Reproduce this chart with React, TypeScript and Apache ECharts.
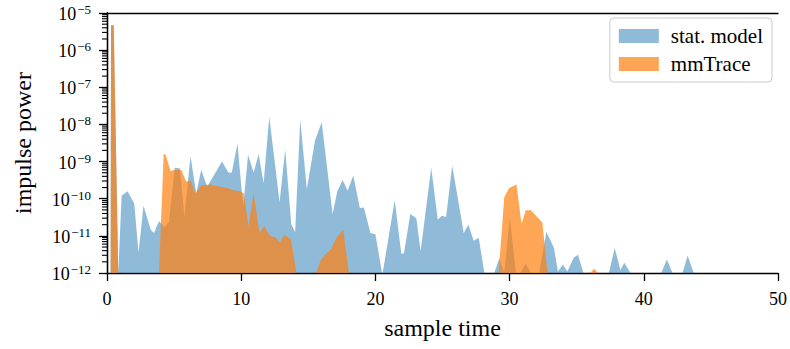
import React, { useEffect, useRef } from 'react';
import * as echarts from 'echarts';

// [sample time, impulse power]
const statModel: [number, number][] = [
  [0, 1e-12], [0.27, 1e-12], [0.3, 4.7e-6], [0.5, 4.7e-6], [0.84, 1e-12],
  [1.09, 1.2e-10], [1.53, 1.6e-10], [2.03, 7.4e-11], [2.35, 3.5e-12], [2.72, 6.5e-11],
  [3.26, 1.45e-11], [3.5, 1.2e-11], [3.88, 2.5e-11], [4.25, 1.7e-11], [4.62, 2.3e-11],
  [5.04, 6.8e-10], [5.44, 6.5e-10], [5.77, 3.2e-11], [6.04, 3.1e-10], [6.22, 1.4e-9],
  [6.65, 1.4e-10], [7.02, 6e-10], [7.46, 2.1e-10], [8.09, 5.1e-10], [8.57, 1.0e-9],
  [9.06, 5e-10], [9.3, 5.1e-10], [9.72, 3.0e-9], [10.15, 6e-11], [10.51, 1.5e-9],
  [10.93, 5.1e-10], [11.3, 1.6e-9], [11.67, 2.6e-10], [12.09, 1.6e-8], [12.86, 8e-11],
  [13.28, 2.1e-9], [13.73, 2.1e-11], [14.02, 1.25e-11], [14.4, 1.35e-8], [14.89, 1.8e-10],
  [15.5, 3.7e-9], [16.0, 1.15e-8], [16.81, 3.9e-11], [17.16, 1.6e-10], [17.56, 3.2e-10],
  [17.93, 1.65e-10], [18.35, 4.2e-10], [18.84, 5.6e-11], [19.14, 5.8e-11], [19.63, 1.2e-11],
  [20.0, 1.1e-11], [20.52, 9e-13], [21.44, 9.1e-11], [21.93, 3.3e-12], [22.13, 3.4e-12],
  [22.6, 3.9e-11], [23.05, 3.0e-11], [23.37, 3.9e-12], [24.16, 6.8e-10], [24.65, 2.7e-11],
  [24.95, 3.5e-11], [25.27, 3.2e-11], [25.72, 7.8e-10], [26.26, 5.9e-11], [26.58, 1.2e-11],
  [26.93, 2.0e-11], [27.32, 7.4e-12], [27.7, 8.9e-12], [28.12, 1e-12], [28.86, 1e-12],
  [29.23, 2.5e-12], [29.6, 1e-12], [30.02, 3.1e-11], [30.47, 1e-12], [30.8, 1e-12],
  [31.2, 1.8e-12], [31.58, 1e-12], [32.2, 1e-12], [32.74, 1.3e-11], [33.31, 4.7e-12],
  [33.6, 1.1e-12], [33.97, 1.7e-12], [34.3, 1.1e-12], [34.79, 2.6e-12], [35.1, 3.1e-12],
  [35.5, 1e-12], [37.4, 1e-12], [37.83, 4.7e-12], [38.26, 1.2e-12], [38.55, 1.9e-12],
  [39.0, 1e-12], [41.3, 1e-12], [41.72, 2.3e-12], [42.14, 1e-12], [42.88, 1e-12],
  [43.27, 2.9e-12], [43.72, 1e-12], [50, 1e-12],
];

const mmTrace: [number, number][] = [
  [0, 1e-12], [0.27, 1e-12], [0.3, 4.7e-6], [0.5, 4.7e-6], [0.84, 1e-12],
  [3.88, 1e-12], [4.22, 1.6e-9], [4.38, 1.5e-9], [4.73, 5.6e-10], [5.0, 5.9e-10],
  [5.54, 5.9e-10], [5.9, 2.9e-10], [6.23, 3.1e-10], [6.6, 1.35e-10], [7.02, 2.3e-10],
  [7.7, 2.4e-10], [8.45, 2.1e-10], [9.05, 1.9e-10], [9.4, 1.7e-10], [9.9, 1.6e-10],
  [10.19, 1.4e-10], [10.55, 1.8e-11], [10.92, 1.4e-10], [11.37, 1.2e-11], [11.71, 1.85e-11],
  [12.16, 9.8e-12], [12.53, 9.3e-12], [12.88, 6.5e-12], [13.2, 1.07e-11], [13.7, 8.1e-12],
  [14.12, 1e-12], [15.58, 1e-12], [15.93, 2.2e-12], [16.25, 3.1e-12], [16.67, 4.2e-12],
  [17.1, 8.9e-12], [17.6, 1.45e-11], [18.03, 1e-12], [29.18, 1e-12], [29.6, 1.1e-10],
  [29.97, 1.95e-10], [30.51, 2.4e-10], [30.89, 2.1e-11], [31.2, 4.9e-11], [31.58, 4.9e-11],
  [32.44, 2.3e-11], [32.82, 1e-12], [36.0, 1e-12], [36.3, 1.3e-12], [36.6, 1e-12],
  [50, 1e-12],
];

const seriesNames = ['stat. model', 'mmTrace'];
const xLabel = 'sample time';
const yLabel = 'impulse power';
const yMin = 1e-12;
const yMax = 1e-5;
const xMin = 0;
const xMax = 50;
const xStep = 10;
// minor tick positions on the log axis: mantissas 2..9 within each decade
const minorMantissas = [2, 3, 4, 5, 6, 7, 8, 9];
const decades = [-12, -11, -10, -9, -8, -7, -6];

const BLUE = 'rgba(31,119,180,0.5)';
const ORANGE = 'rgba(255,127,14,0.7)';
const FONT = '"Liberation Serif", "DejaVu Serif", serif';

export default function App() {
  const ref = useRef<HTMLDivElement>(null);
  useEffect(() => {
    if (!ref.current) return;
    const chart = echarts.init(ref.current, undefined, { renderer: 'svg' });
    const axisLineStyle = { color: '#000', width: 1.3 };
    chart.setOption({
      animation: false,
      grid: { left: 107, right: 12, top: 13, bottom: 76 },
      legend: {
        data: [
          { name: seriesNames[0], itemStyle: { color: BLUE } },
          { name: seriesNames[1], itemStyle: { color: ORANGE } },
        ],
        orient: 'vertical',
        right: 18,
        top: 18,
        icon: 'rect',
        itemWidth: 40,
        itemHeight: 14,
        itemGap: 6,
        padding: [7, 9, 7, 9],
        borderColor: '#cccccc',
        borderWidth: 1,
        borderRadius: 4,
        backgroundColor: 'rgba(255,255,255,0.8)',
        textStyle: { fontFamily: FONT, fontSize: 21, lineHeight: 22, color: '#000', padding: [0, 0, 0, 7] },
      },
      xAxis: [
        {
          type: 'value', min: xMin, max: xMax, interval: xStep, position: 'bottom',
          axisLine: { show: true, lineStyle: axisLineStyle },
          axisTick: { show: true, inside: false, length: 8, lineStyle: axisLineStyle },
          axisLabel: { fontFamily: FONT, fontSize: 18, color: '#000', margin: 17 },
          splitLine: { show: false },
          name: xLabel, nameLocation: 'middle', nameGap: 43,
          nameTextStyle: { fontFamily: FONT, fontSize: 24, color: '#000' },
        },
        {
          type: 'value', min: xMin, max: xMax, interval: xStep, position: 'top',
          axisLine: { show: true, lineStyle: axisLineStyle },
          axisTick: { show: false }, axisLabel: { show: false }, splitLine: { show: false },
        },
      ],
      yAxis: [
        {
          type: 'log', logBase: 10, min: yMin, max: yMax, interval: 1, position: 'left',
          axisLine: { show: true, lineStyle: axisLineStyle },
          axisTick: { show: true, inside: false, length: 8, lineStyle: axisLineStyle },
          axisLabel: {
            margin: 16,
            formatter: (v: number) => {
              const e = Math.round(Math.log10(v));
              return `{b|10}{s|\u2212${-e}}`;
            },
            rich: {
              b: { fontFamily: FONT, fontSize: 18, color: '#000', verticalAlign: 'bottom', lineHeight: 20 },
              s: { fontFamily: FONT, fontSize: 13, color: '#000', verticalAlign: 'top', lineHeight: 13, padding: [0, 0, 10, 1] },
            },
          },
          splitLine: { show: false },
          name: yLabel, nameLocation: 'middle', nameGap: 72,
          nameTextStyle: { fontFamily: FONT, fontSize: 24, color: '#000' },
        },
        {
          type: 'log', logBase: 10, min: yMin, max: yMax, position: 'right',
          axisLine: { show: true, lineStyle: axisLineStyle },
          axisTick: { show: false }, axisLabel: { show: false }, splitLine: { show: false },
        },
      ],
      series: [
        {
          type: 'line', name: seriesNames[0], data: statModel, symbol: 'none', showSymbol: false,
          lineStyle: { width: 0 }, itemStyle: { color: BLUE }, areaStyle: { color: BLUE, opacity: 1 },
          clip: true, z: 2,
        },
        {
          type: 'line', name: seriesNames[1], data: mmTrace, symbol: 'none', showSymbol: false,
          lineStyle: { width: 0 }, itemStyle: { color: ORANGE }, areaStyle: { color: ORANGE, opacity: 1 },
          clip: true, z: 3,
        },
      ],
    });

    // minor ticks of the log axis, positioned through the axis scale
    const x0 = chart.convertToPixel({ xAxisIndex: 0 }, xMin) as number;
    const lines: any[] = [];
    decades.forEach((d) =>
      minorMantissas.forEach((m) => {
        const v = m * Math.pow(10, d);
        const py = chart.convertToPixel({ yAxisIndex: 0 }, v) as number;
        if (typeof py === 'number' && isFinite(py)) {
          lines.push({
            type: 'line', silent: true, z: 100,
            shape: { x1: x0 - 5, y1: py, x2: x0, y2: py },
            style: { stroke: '#000', lineWidth: 1.1 },
          });
        }
      })
    );
    chart.setOption({ graphic: { elements: lines } });

    return () => chart.dispose();
  }, []);
  return <div ref={ref} style={{ position: 'absolute', left: 0, top: 0, width: 790, height: 349 }} />;
}
